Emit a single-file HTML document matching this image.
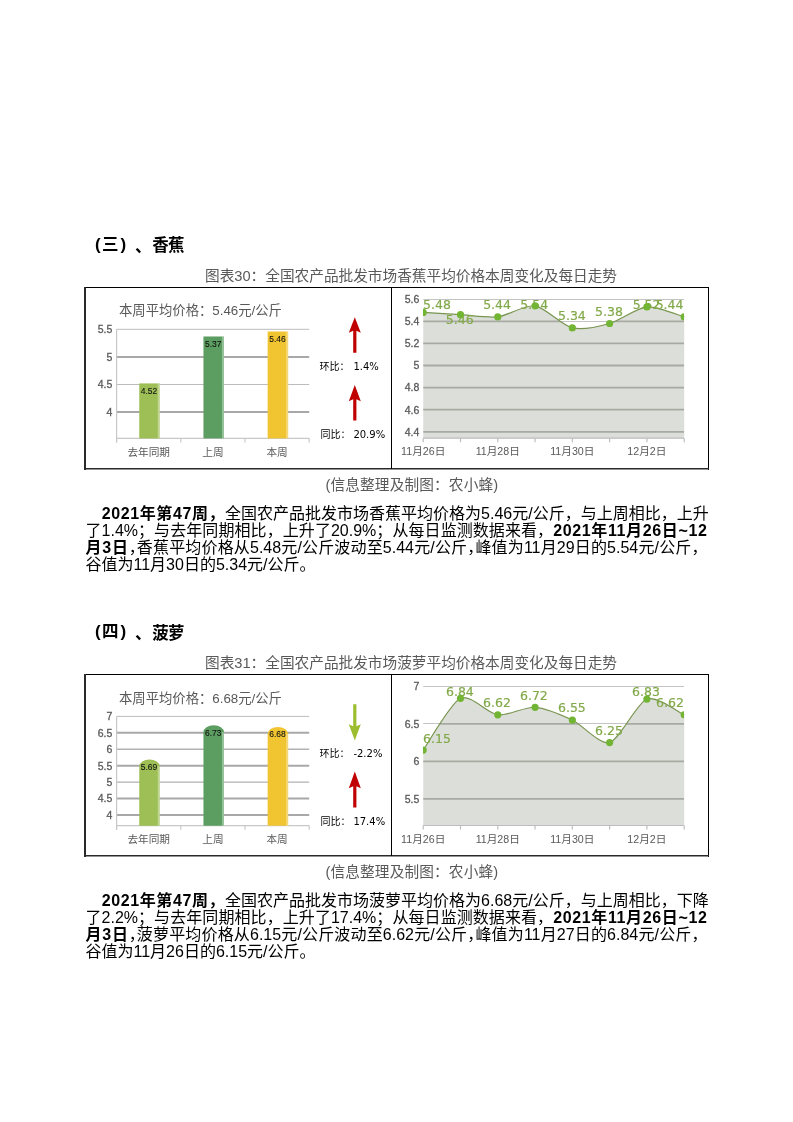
<!DOCTYPE html>
<html><head><meta charset="utf-8"><title>page</title>
<style>
html,body{margin:0;padding:0;background:#fff;}
body{width:793px;height:1122px;position:relative;overflow:hidden;font-family:"Liberation Sans","Noto Sans CJK SC",sans-serif;}
#w{position:absolute;left:0;top:0;width:793px;height:1122px;will-change:transform;}
.a{position:absolute;white-space:nowrap;}
.g{position:absolute;line-height:30px;white-space:nowrap;color:#000;}
.h{position:absolute;left:91px;font-size:16px;font-weight:bold;line-height:20px;color:#000;white-space:nowrap;}
.cap{position:absolute;left:205px;font-size:14.67px;line-height:18px;color:#595959;white-space:nowrap;}
.src{position:absolute;left:325.4px;letter-spacing:0.15px;font-size:14.67px;line-height:18px;color:#595959;white-space:nowrap;}
.pl{position:absolute;font-size:16px;line-height:20px;color:#000;white-space:nowrap;text-align:justify;text-align-last:justify;}
.pl.last{text-align:left;text-align-last:left;}
.pl b{font-weight:bold;letter-spacing:0.6px;}
.hw{font-feature-settings:"halt";}
svg{position:absolute;left:0;top:0;}
</style></head><body><div id="w">
<span class="g" style="left:95.0px;top:234.6px;font:bold 17px 'Liberation Sans',sans-serif">(</span><span class="g" style="left:102.0px;top:231.0px;font:bold 16.5px 'Noto Sans CJK SC',sans-serif">三</span><span class="g" style="left:120.6px;top:234.6px;font:bold 17px 'Liberation Sans',sans-serif">)</span><span class="g" style="left:135.1px;top:233.0px;font:bold 16.5px 'Noto Sans CJK SC',sans-serif">、</span><span class="g" style="left:152.2px;top:232.2px;font:bold 16.5px 'Noto Sans CJK SC',sans-serif">香</span><span class="g" style="left:168.1px;top:232.2px;font:bold 16.5px 'Noto Sans CJK SC',sans-serif">蕉</span>
<div class="cap" style="top:266.7px">图表30：全国农产品批发市场香蕉平均价格本周变化及每日走势</div>
<div class="src" style="top:476px">(信息整理及制图：农小蜂)</div>
<div class="pl" style="top:503.70px;left:101.7px;width:605.8px;"><b>2021年第47周，</b>全国农产品批发市场香蕉平均价格为5.46元/公斤，与上周相比，上升</div>
<div class="pl" style="top:521.00px;left:85.5px;width:622px;">了1.4%；与去年同期相比，上升了20.9%；从每日监测数据来看，<b>2021年11月26日~12</b></div>
<div class="pl" style="top:538.00px;left:85.5px;width:622px;"><b>月3日</b><span class="hw">，</span>香蕉平均价格从5.48元/公斤波动至5.44元/公斤<span class="hw">，</span>峰值为11月29日的5.54元/公斤，</div>
<div class="pl last" style="top:554.90px;left:85.5px;width:622px;">谷值为11月30日的5.34元/公斤。</div>
<span class="g" style="left:95.0px;top:621.9px;font:bold 17px 'Liberation Sans',sans-serif">(</span><span class="g" style="left:102.0px;top:618.3px;font:bold 16.5px 'Noto Sans CJK SC',sans-serif">四</span><span class="g" style="left:120.6px;top:621.9px;font:bold 17px 'Liberation Sans',sans-serif">)</span><span class="g" style="left:135.1px;top:620.3px;font:bold 16.5px 'Noto Sans CJK SC',sans-serif">、</span><span class="g" style="left:152.2px;top:619.5px;font:bold 16.5px 'Noto Sans CJK SC',sans-serif">菠</span><span class="g" style="left:168.1px;top:619.5px;font:bold 16.5px 'Noto Sans CJK SC',sans-serif">萝</span>
<div class="cap" style="top:654.0px">图表31：全国农产品批发市场菠萝平均价格本周变化及每日走势</div>
<div class="src" style="top:863.3px">(信息整理及制图：农小蜂)</div>
<div class="pl" style="top:890.70px;left:101.7px;width:605.8px;"><b>2021年第47周，</b>全国农产品批发市场菠萝平均价格为6.68元/公斤，与上周相比，下降</div>
<div class="pl" style="top:908.00px;left:85.5px;width:622px;">了2.2%；与去年同期相比，上升了17.4%；从每日监测数据来看，<b>2021年11月26日~12</b></div>
<div class="pl" style="top:925.00px;left:85.5px;width:622px;"><b>月3日</b><span class="hw">，</span>菠萝平均价格从6.15元/公斤波动至6.62元/公斤<span class="hw">，</span>峰值为11月27日的6.84元/公斤，</div>
<div class="pl last" style="top:941.90px;left:85.5px;width:622px;">谷值为11月26日的6.15元/公斤。</div>
<svg width="793" height="1122" viewBox="0 0 793 1122">
<line x1="84" y1="287.5" x2="709" y2="287.5" stroke="#000" stroke-width="1"/>
<line x1="708.5" y1="287" x2="708.5" y2="470" stroke="#000" stroke-width="1"/>
<line x1="85" y1="287" x2="85" y2="470" stroke="#2a2a2a" stroke-width="2"/>
<line x1="84" y1="468.75" x2="709" y2="468.75" stroke="#2a2a2a" stroke-width="1.5"/>
<line x1="391.5" y1="287" x2="391.5" y2="469" stroke="#000" stroke-width="1"/>
<text x="119" y="315.2" font-size="13.33" fill="#595959" font-family='"Liberation Sans","Noto Sans CJK SC",sans-serif'>本周平均价格：5.46元/公斤</text>
<line x1="116.6" y1="329.30" x2="309.2" y2="329.30" stroke="#bcbcbc" stroke-width="1"/>
<text x="112.4" y="333.10" font-size="10.5" fill="#595959" stroke="#595959" stroke-width="0.3" text-anchor="end" font-family="Liberation Sans,sans-serif">5.5</text>
<line x1="116.6" y1="356.90" x2="309.2" y2="356.90" stroke="#a8a8a8" stroke-width="2"/>
<text x="112.4" y="360.70" font-size="10.5" fill="#595959" stroke="#595959" stroke-width="0.3" text-anchor="end" font-family="Liberation Sans,sans-serif">5</text>
<line x1="116.6" y1="384.50" x2="309.2" y2="384.50" stroke="#bcbcbc" stroke-width="1"/>
<text x="112.4" y="388.30" font-size="10.5" fill="#595959" stroke="#595959" stroke-width="0.3" text-anchor="end" font-family="Liberation Sans,sans-serif">4.5</text>
<line x1="116.6" y1="412.10" x2="309.2" y2="412.10" stroke="#a8a8a8" stroke-width="2"/>
<text x="112.4" y="415.90" font-size="10.5" fill="#595959" stroke="#595959" stroke-width="0.3" text-anchor="end" font-family="Liberation Sans,sans-serif">4</text>
<line x1="116.6" y1="329.30" x2="116.6" y2="442.4" stroke="#c8c8c8" stroke-width="1.2"/>
<line x1="116.6" y1="438.4" x2="309.2" y2="438.4" stroke="#c8c8c8" stroke-width="1.2"/>
<line x1="116.60" y1="438.4" x2="116.60" y2="442.4" stroke="#c8c8c8" stroke-width="1.2"/>
<line x1="180.80" y1="438.4" x2="180.80" y2="442.4" stroke="#c8c8c8" stroke-width="1.2"/>
<line x1="245.00" y1="438.4" x2="245.00" y2="442.4" stroke="#c8c8c8" stroke-width="1.2"/>
<line x1="309.20" y1="438.4" x2="309.20" y2="442.4" stroke="#c8c8c8" stroke-width="1.2"/>
<rect x="139.25" y="383.40" width="20.5" height="55.00" fill="#9dbf55"/>
<rect x="157.75" y="383.40" width="2" height="55.00" fill="#fff" opacity="0.35"/>
<text x="140.80" y="393.70" font-size="9.8" fill="#111" stroke="#111" stroke-width="0.1" font-family="Liberation Sans,sans-serif" textLength="16.5" lengthAdjust="spacingAndGlyphs">4.52</text>
<text x="148.70" y="455.5" font-size="10.67" fill="#595959" text-anchor="middle" font-family='"Liberation Sans","Noto Sans CJK SC",sans-serif'>去年同期</text>
<rect x="203.45" y="336.48" width="20.5" height="101.92" fill="#5c9e61"/>
<rect x="221.95" y="336.48" width="2" height="101.92" fill="#fff" opacity="0.35"/>
<text x="205.00" y="346.78" font-size="9.8" fill="#111" stroke="#111" stroke-width="0.1" font-family="Liberation Sans,sans-serif" textLength="16.5" lengthAdjust="spacingAndGlyphs">5.37</text>
<text x="212.90" y="455.5" font-size="10.67" fill="#595959" text-anchor="middle" font-family='"Liberation Sans","Noto Sans CJK SC",sans-serif'>上周</text>
<rect x="267.65" y="331.51" width="20.5" height="106.89" fill="#f1c432"/>
<rect x="286.15" y="331.51" width="2" height="106.89" fill="#fff" opacity="0.35"/>
<text x="269.20" y="341.81" font-size="9.8" fill="#111" stroke="#111" stroke-width="0.1" font-family="Liberation Sans,sans-serif" textLength="16.5" lengthAdjust="spacingAndGlyphs">5.46</text>
<text x="277.10" y="455.5" font-size="10.67" fill="#595959" text-anchor="middle" font-family='"Liberation Sans","Noto Sans CJK SC",sans-serif'>本周</text>
<path d="M354.8,317.3 L360.8,332.8 L356.40000000000003,330.8 L356.40000000000003,352.8 L353.2,352.8 L353.2,330.8 L348.8,332.8 Z" fill="#c00000"/>
<path d="M354.8,385.1 L360.8,401.3 L356.40000000000003,399.3 L356.40000000000003,420.6 L353.2,420.6 L353.2,399.3 L348.8,401.3 Z" fill="#c00000"/>
<text x="319.5" y="369.8" font-size="10" fill="#000" font-family='"Liberation Sans","Noto Sans CJK SC",sans-serif'>环比：<tspan x="353.4" font-family="DejaVu Sans,sans-serif">1.4%</tspan></text>
<text x="320.5" y="437.8" font-size="10" fill="#000" font-family='"Liberation Sans","Noto Sans CJK SC",sans-serif'>同比：<tspan x="353.4" font-family="DejaVu Sans,sans-serif">20.9%</tspan></text>
<clipPath id="a0"><path d="M423.20,312.46 C428.05,312.75 450.79,314.10 460.49,314.67 C470.18,315.24 488.08,318.03 497.77,316.88 C507.47,315.73 525.36,304.39 535.06,305.83 C544.75,307.27 562.65,325.63 572.34,327.93 C582.04,330.23 599.93,326.24 609.63,323.51 C619.32,320.78 637.22,307.80 646.91,306.93 C656.61,306.07 679.35,315.59 684.20,316.88 L684.20,438.2 L423.20,438.2 Z"/></clipPath>
<line x1="423.2" y1="299.50" x2="684.0" y2="299.50" stroke="#c4c4c4" stroke-width="1.1"/>
<line x1="423.2" y1="321.50" x2="684.0" y2="321.50" stroke="#c4c4c4" stroke-width="1.1"/>
<line x1="423.2" y1="343.50" x2="684.0" y2="343.50" stroke="#c4c4c4" stroke-width="1.1"/>
<line x1="423.2" y1="365.50" x2="684.0" y2="365.50" stroke="#c4c4c4" stroke-width="1.1"/>
<line x1="423.2" y1="387.50" x2="684.0" y2="387.50" stroke="#c4c4c4" stroke-width="1.1"/>
<line x1="423.2" y1="409.50" x2="684.0" y2="409.50" stroke="#c4c4c4" stroke-width="1.1"/>
<line x1="423.2" y1="431.50" x2="684.0" y2="431.50" stroke="#c4c4c4" stroke-width="1.1"/>
<path d="M423.20,312.46 C428.05,312.75 450.79,314.10 460.49,314.67 C470.18,315.24 488.08,318.03 497.77,316.88 C507.47,315.73 525.36,304.39 535.06,305.83 C544.75,307.27 562.65,325.63 572.34,327.93 C582.04,330.23 599.93,326.24 609.63,323.51 C619.32,320.78 637.22,307.80 646.91,306.93 C656.61,306.07 679.35,315.59 684.20,316.88 L684.20,438.2 L423.20,438.2 Z" fill="#dcdfd9"/>
<line x1="423.2" y1="299.20" x2="684.0" y2="299.20" stroke="#a7aaa2" stroke-width="1.8" clip-path="url(#a0)"/>
<line x1="423.2" y1="321.30" x2="684.0" y2="321.30" stroke="#a7aaa2" stroke-width="1.8" clip-path="url(#a0)"/>
<line x1="423.2" y1="343.40" x2="684.0" y2="343.40" stroke="#a7aaa2" stroke-width="1.8" clip-path="url(#a0)"/>
<line x1="423.2" y1="365.50" x2="684.0" y2="365.50" stroke="#a7aaa2" stroke-width="1.8" clip-path="url(#a0)"/>
<line x1="423.2" y1="387.60" x2="684.0" y2="387.60" stroke="#a7aaa2" stroke-width="1.8" clip-path="url(#a0)"/>
<line x1="423.2" y1="409.70" x2="684.0" y2="409.70" stroke="#a7aaa2" stroke-width="1.8" clip-path="url(#a0)"/>
<line x1="423.2" y1="431.80" x2="684.0" y2="431.80" stroke="#a7aaa2" stroke-width="1.8" clip-path="url(#a0)"/>
<path d="M423.20,312.46 C428.05,312.75 450.79,314.10 460.49,314.67 C470.18,315.24 488.08,318.03 497.77,316.88 C507.47,315.73 525.36,304.39 535.06,305.83 C544.75,307.27 562.65,325.63 572.34,327.93 C582.04,330.23 599.93,326.24 609.63,323.51 C619.32,320.78 637.22,307.80 646.91,306.93 C656.61,306.07 679.35,315.59 684.20,316.88" fill="none" stroke="#789550" stroke-width="1.2"/>
<text x="437.00" y="308.90" font-size="12.5" fill="#82a94a" stroke="#82a94a" stroke-width="0.18" text-anchor="middle" font-family="DejaVu Sans,sans-serif">5.48</text>
<text x="459.70" y="323.90" font-size="12.5" fill="#82a94a" stroke="#82a94a" stroke-width="0.18" text-anchor="middle" font-family="DejaVu Sans,sans-serif">5.46</text>
<text x="497.10" y="309.00" font-size="12.5" fill="#82a94a" stroke="#82a94a" stroke-width="0.18" text-anchor="middle" font-family="DejaVu Sans,sans-serif">5.44</text>
<text x="534.20" y="308.90" font-size="12.5" fill="#82a94a" stroke="#82a94a" stroke-width="0.18" text-anchor="middle" font-family="DejaVu Sans,sans-serif">5.54</text>
<text x="571.90" y="319.60" font-size="12.5" fill="#82a94a" stroke="#82a94a" stroke-width="0.18" text-anchor="middle" font-family="DejaVu Sans,sans-serif">5.34</text>
<text x="609.00" y="315.80" font-size="12.5" fill="#82a94a" stroke="#82a94a" stroke-width="0.18" text-anchor="middle" font-family="DejaVu Sans,sans-serif">5.38</text>
<text x="646.60" y="309.00" font-size="12.5" fill="#82a94a" stroke="#82a94a" stroke-width="0.18" text-anchor="middle" font-family="DejaVu Sans,sans-serif">5.52</text>
<text x="669.60" y="309.00" font-size="12.5" fill="#82a94a" stroke="#82a94a" stroke-width="0.18" text-anchor="middle" font-family="DejaVu Sans,sans-serif">5.44</text>
<clipPath id="c0"><rect x="423.0" y="289.2" width="261.0" height="149.0"/></clipPath>
<g clip-path="url(#c0)">
<circle cx="423.20" cy="312.46" r="3.6" fill="#72b534"/>
<circle cx="460.49" cy="314.67" r="3.6" fill="#72b534"/>
<circle cx="497.77" cy="316.88" r="3.6" fill="#72b534"/>
<circle cx="535.06" cy="305.83" r="3.6" fill="#72b534"/>
<circle cx="572.34" cy="327.93" r="3.6" fill="#72b534"/>
<circle cx="609.63" cy="323.51" r="3.6" fill="#72b534"/>
<circle cx="646.91" cy="306.93" r="3.6" fill="#72b534"/>
<circle cx="684.20" cy="316.88" r="3.6" fill="#72b534"/>
</g>
<line x1="423.2" y1="438.2" x2="684.0" y2="438.2" stroke="#bdbdbd" stroke-width="1.2"/>
<line x1="423.20" y1="438.2" x2="423.20" y2="442.2" stroke="#bdbdbd" stroke-width="1.2"/>
<line x1="460.49" y1="438.2" x2="460.49" y2="442.2" stroke="#bdbdbd" stroke-width="1.2"/>
<line x1="497.77" y1="438.2" x2="497.77" y2="442.2" stroke="#bdbdbd" stroke-width="1.2"/>
<line x1="535.06" y1="438.2" x2="535.06" y2="442.2" stroke="#bdbdbd" stroke-width="1.2"/>
<line x1="572.34" y1="438.2" x2="572.34" y2="442.2" stroke="#bdbdbd" stroke-width="1.2"/>
<line x1="609.63" y1="438.2" x2="609.63" y2="442.2" stroke="#bdbdbd" stroke-width="1.2"/>
<line x1="646.91" y1="438.2" x2="646.91" y2="442.2" stroke="#bdbdbd" stroke-width="1.2"/>
<line x1="684.20" y1="438.2" x2="684.20" y2="442.2" stroke="#bdbdbd" stroke-width="1.2"/>
<text x="419.3" y="303.00" font-size="10.5" fill="#595959" stroke="#595959" stroke-width="0.3" text-anchor="end" font-family="Liberation Sans,sans-serif">5.6</text>
<text x="419.3" y="325.10" font-size="10.5" fill="#595959" stroke="#595959" stroke-width="0.3" text-anchor="end" font-family="Liberation Sans,sans-serif">5.4</text>
<text x="419.3" y="347.20" font-size="10.5" fill="#595959" stroke="#595959" stroke-width="0.3" text-anchor="end" font-family="Liberation Sans,sans-serif">5.2</text>
<text x="419.3" y="369.30" font-size="10.5" fill="#595959" stroke="#595959" stroke-width="0.3" text-anchor="end" font-family="Liberation Sans,sans-serif">5</text>
<text x="419.3" y="391.40" font-size="10.5" fill="#595959" stroke="#595959" stroke-width="0.3" text-anchor="end" font-family="Liberation Sans,sans-serif">4.8</text>
<text x="419.3" y="413.50" font-size="10.5" fill="#595959" stroke="#595959" stroke-width="0.3" text-anchor="end" font-family="Liberation Sans,sans-serif">4.6</text>
<text x="419.3" y="435.60" font-size="10.5" fill="#595959" stroke="#595959" stroke-width="0.3" text-anchor="end" font-family="Liberation Sans,sans-serif">4.4</text>
<text x="423.20" y="455.2" font-size="10.67" fill="#595959" text-anchor="middle" font-family='"Liberation Sans","Noto Sans CJK SC",sans-serif'>11月26日</text>
<text x="497.77" y="455.2" font-size="10.67" fill="#595959" text-anchor="middle" font-family='"Liberation Sans","Noto Sans CJK SC",sans-serif'>11月28日</text>
<text x="572.34" y="455.2" font-size="10.67" fill="#595959" text-anchor="middle" font-family='"Liberation Sans","Noto Sans CJK SC",sans-serif'>11月30日</text>
<text x="646.91" y="455.2" font-size="10.67" fill="#595959" text-anchor="middle" font-family='"Liberation Sans","Noto Sans CJK SC",sans-serif'>12月2日</text>
<line x1="84" y1="674.5" x2="709" y2="674.5" stroke="#000" stroke-width="1"/>
<line x1="708.5" y1="674" x2="708.5" y2="857" stroke="#000" stroke-width="1"/>
<line x1="85" y1="674" x2="85" y2="857" stroke="#2a2a2a" stroke-width="2"/>
<line x1="84" y1="855.75" x2="709" y2="855.75" stroke="#2a2a2a" stroke-width="1.5"/>
<line x1="391.5" y1="674" x2="391.5" y2="856" stroke="#000" stroke-width="1"/>
<text x="119" y="702.5" font-size="13.33" fill="#595959" font-family='"Liberation Sans","Noto Sans CJK SC",sans-serif'>本周平均价格：6.68元/公斤</text>
<line x1="116.6" y1="716.40" x2="309.2" y2="716.40" stroke="#bcbcbc" stroke-width="1"/>
<text x="112.4" y="720.20" font-size="10.5" fill="#595959" stroke="#595959" stroke-width="0.3" text-anchor="end" font-family="Liberation Sans,sans-serif">7</text>
<line x1="116.6" y1="732.83" x2="309.2" y2="732.83" stroke="#a8a8a8" stroke-width="2"/>
<text x="112.4" y="736.63" font-size="10.5" fill="#595959" stroke="#595959" stroke-width="0.3" text-anchor="end" font-family="Liberation Sans,sans-serif">6.5</text>
<line x1="116.6" y1="749.27" x2="309.2" y2="749.27" stroke="#b2b2b2" stroke-width="1.4"/>
<text x="112.4" y="753.07" font-size="10.5" fill="#595959" stroke="#595959" stroke-width="0.3" text-anchor="end" font-family="Liberation Sans,sans-serif">6</text>
<line x1="116.6" y1="765.70" x2="309.2" y2="765.70" stroke="#a8a8a8" stroke-width="2"/>
<text x="112.4" y="769.50" font-size="10.5" fill="#595959" stroke="#595959" stroke-width="0.3" text-anchor="end" font-family="Liberation Sans,sans-serif">5.5</text>
<line x1="116.6" y1="782.14" x2="309.2" y2="782.14" stroke="#b2b2b2" stroke-width="1.4"/>
<text x="112.4" y="785.94" font-size="10.5" fill="#595959" stroke="#595959" stroke-width="0.3" text-anchor="end" font-family="Liberation Sans,sans-serif">5</text>
<line x1="116.6" y1="798.57" x2="309.2" y2="798.57" stroke="#a8a8a8" stroke-width="2"/>
<text x="112.4" y="802.37" font-size="10.5" fill="#595959" stroke="#595959" stroke-width="0.3" text-anchor="end" font-family="Liberation Sans,sans-serif">4.5</text>
<line x1="116.6" y1="815.01" x2="309.2" y2="815.01" stroke="#a8a8a8" stroke-width="2"/>
<text x="112.4" y="818.81" font-size="10.5" fill="#595959" stroke="#595959" stroke-width="0.3" text-anchor="end" font-family="Liberation Sans,sans-serif">4</text>
<line x1="116.6" y1="716.40" x2="116.6" y2="829.7" stroke="#c8c8c8" stroke-width="1.2"/>
<line x1="116.6" y1="825.7" x2="309.2" y2="825.7" stroke="#c8c8c8" stroke-width="1.2"/>
<line x1="116.60" y1="825.7" x2="116.60" y2="829.7" stroke="#c8c8c8" stroke-width="1.2"/>
<line x1="180.80" y1="825.7" x2="180.80" y2="829.7" stroke="#c8c8c8" stroke-width="1.2"/>
<line x1="245.00" y1="825.7" x2="245.00" y2="829.7" stroke="#c8c8c8" stroke-width="1.2"/>
<line x1="309.20" y1="825.7" x2="309.20" y2="829.7" stroke="#c8c8c8" stroke-width="1.2"/>
<path d="M139.25,825.7 V766.46 A10.25,7.00 0 0 1 159.75,766.46 V825.7 Z" fill="#9dbf55"/>
<rect x="157.75" y="766.46" width="2" height="59.24" fill="#fff" opacity="0.35"/>
<text x="140.80" y="769.76" font-size="9.8" fill="#111" stroke="#111" stroke-width="0.1" font-family="Liberation Sans,sans-serif" textLength="16.5" lengthAdjust="spacingAndGlyphs">5.69</text>
<text x="148.70" y="842.8" font-size="10.67" fill="#595959" text-anchor="middle" font-family='"Liberation Sans","Noto Sans CJK SC",sans-serif'>去年同期</text>
<path d="M203.45,825.7 V732.27 A10.25,7.00 0 0 1 223.95,732.27 V825.7 Z" fill="#5c9e61"/>
<rect x="221.95" y="732.27" width="2" height="93.43" fill="#fff" opacity="0.35"/>
<text x="205.00" y="735.57" font-size="9.8" fill="#111" stroke="#111" stroke-width="0.1" font-family="Liberation Sans,sans-serif" textLength="16.5" lengthAdjust="spacingAndGlyphs">6.73</text>
<text x="212.90" y="842.8" font-size="10.67" fill="#595959" text-anchor="middle" font-family='"Liberation Sans","Noto Sans CJK SC",sans-serif'>上周</text>
<path d="M267.65,825.7 V733.92 A10.25,7.00 0 0 1 288.15,733.92 V825.7 Z" fill="#f1c432"/>
<rect x="286.15" y="733.92" width="2" height="91.78" fill="#fff" opacity="0.35"/>
<text x="269.20" y="737.22" font-size="9.8" fill="#111" stroke="#111" stroke-width="0.1" font-family="Liberation Sans,sans-serif" textLength="16.5" lengthAdjust="spacingAndGlyphs">6.68</text>
<text x="277.10" y="842.8" font-size="10.67" fill="#595959" text-anchor="middle" font-family='"Liberation Sans","Noto Sans CJK SC",sans-serif'>本周</text>
<path d="M353.2,704.2 L356.40000000000003,704.2 L356.40000000000003,726.2 L360.8,724.2 L354.8,740.4000000000001 L348.8,724.2 L353.2,726.2 Z" fill="#9bbd2e"/>
<path d="M354.8,771.4000000000001 L360.8,788.2 L356.40000000000003,786.2 L356.40000000000003,807.6 L353.2,807.6 L353.2,786.2 L348.8,788.2 Z" fill="#c00000"/>
<text x="319.5" y="757.1" font-size="10" fill="#000" font-family='"Liberation Sans","Noto Sans CJK SC",sans-serif'>环比：<tspan x="353.4" font-family="DejaVu Sans,sans-serif">-2.2%</tspan></text>
<text x="320.5" y="825.1" font-size="10" fill="#000" font-family='"Liberation Sans","Noto Sans CJK SC",sans-serif'>同比：<tspan x="353.4" font-family="DejaVu Sans,sans-serif">17.4%</tspan></text>
<clipPath id="a387"><path d="M423.20,750.05 C428.05,743.32 450.79,702.88 460.49,698.30 C470.18,693.72 488.08,713.63 497.77,714.80 C507.47,715.97 525.36,706.62 535.06,707.30 C544.75,707.98 562.65,715.47 572.34,720.05 C582.04,724.63 599.93,745.28 609.63,742.55 C619.32,739.82 637.22,702.66 646.91,699.05 C656.61,695.44 679.35,712.75 684.20,714.80 L684.20,825.5 L423.20,825.5 Z"/></clipPath>
<line x1="423.2" y1="686.50" x2="684.0" y2="686.50" stroke="#c4c4c4" stroke-width="1.1"/>
<line x1="423.2" y1="723.50" x2="684.0" y2="723.50" stroke="#c4c4c4" stroke-width="1.1"/>
<line x1="423.2" y1="761.50" x2="684.0" y2="761.50" stroke="#c4c4c4" stroke-width="1.1"/>
<line x1="423.2" y1="798.50" x2="684.0" y2="798.50" stroke="#c4c4c4" stroke-width="1.1"/>
<path d="M423.20,750.05 C428.05,743.32 450.79,702.88 460.49,698.30 C470.18,693.72 488.08,713.63 497.77,714.80 C507.47,715.97 525.36,706.62 535.06,707.30 C544.75,707.98 562.65,715.47 572.34,720.05 C582.04,724.63 599.93,745.28 609.63,742.55 C619.32,739.82 637.22,702.66 646.91,699.05 C656.61,695.44 679.35,712.75 684.20,714.80 L684.20,825.5 L423.20,825.5 Z" fill="#dcdfd9"/>
<line x1="423.2" y1="686.30" x2="684.0" y2="686.30" stroke="#a7aaa2" stroke-width="1.8" clip-path="url(#a387)"/>
<line x1="423.2" y1="723.80" x2="684.0" y2="723.80" stroke="#a7aaa2" stroke-width="1.8" clip-path="url(#a387)"/>
<line x1="423.2" y1="761.30" x2="684.0" y2="761.30" stroke="#a7aaa2" stroke-width="1.8" clip-path="url(#a387)"/>
<line x1="423.2" y1="798.80" x2="684.0" y2="798.80" stroke="#a7aaa2" stroke-width="1.8" clip-path="url(#a387)"/>
<path d="M423.20,750.05 C428.05,743.32 450.79,702.88 460.49,698.30 C470.18,693.72 488.08,713.63 497.77,714.80 C507.47,715.97 525.36,706.62 535.06,707.30 C544.75,707.98 562.65,715.47 572.34,720.05 C582.04,724.63 599.93,745.28 609.63,742.55 C619.32,739.82 637.22,702.66 646.91,699.05 C656.61,695.44 679.35,712.75 684.20,714.80" fill="none" stroke="#789550" stroke-width="1.2"/>
<text x="437.00" y="742.80" font-size="12.5" fill="#82a94a" stroke="#82a94a" stroke-width="0.18" text-anchor="middle" font-family="DejaVu Sans,sans-serif">6.15</text>
<text x="459.90" y="696.20" font-size="12.5" fill="#82a94a" stroke="#82a94a" stroke-width="0.18" text-anchor="middle" font-family="DejaVu Sans,sans-serif">6.84</text>
<text x="497.00" y="707.00" font-size="12.5" fill="#82a94a" stroke="#82a94a" stroke-width="0.18" text-anchor="middle" font-family="DejaVu Sans,sans-serif">6.62</text>
<text x="533.90" y="700.00" font-size="12.5" fill="#82a94a" stroke="#82a94a" stroke-width="0.18" text-anchor="middle" font-family="DejaVu Sans,sans-serif">6.72</text>
<text x="571.90" y="711.90" font-size="12.5" fill="#82a94a" stroke="#82a94a" stroke-width="0.18" text-anchor="middle" font-family="DejaVu Sans,sans-serif">6.55</text>
<text x="609.00" y="734.80" font-size="12.5" fill="#82a94a" stroke="#82a94a" stroke-width="0.18" text-anchor="middle" font-family="DejaVu Sans,sans-serif">6.25</text>
<text x="646.00" y="696.20" font-size="12.5" fill="#82a94a" stroke="#82a94a" stroke-width="0.18" text-anchor="middle" font-family="DejaVu Sans,sans-serif">6.83</text>
<text x="670.00" y="706.70" font-size="12.5" fill="#82a94a" stroke="#82a94a" stroke-width="0.18" text-anchor="middle" font-family="DejaVu Sans,sans-serif">6.62</text>
<clipPath id="c387"><rect x="423.0" y="676.3" width="261.0" height="149.20000000000005"/></clipPath>
<g clip-path="url(#c387)">
<circle cx="423.20" cy="750.05" r="3.6" fill="#72b534"/>
<circle cx="460.49" cy="698.30" r="3.6" fill="#72b534"/>
<circle cx="497.77" cy="714.80" r="3.6" fill="#72b534"/>
<circle cx="535.06" cy="707.30" r="3.6" fill="#72b534"/>
<circle cx="572.34" cy="720.05" r="3.6" fill="#72b534"/>
<circle cx="609.63" cy="742.55" r="3.6" fill="#72b534"/>
<circle cx="646.91" cy="699.05" r="3.6" fill="#72b534"/>
<circle cx="684.20" cy="714.80" r="3.6" fill="#72b534"/>
</g>
<line x1="423.2" y1="825.5" x2="684.0" y2="825.5" stroke="#bdbdbd" stroke-width="1.2"/>
<line x1="423.20" y1="825.5" x2="423.20" y2="829.5" stroke="#bdbdbd" stroke-width="1.2"/>
<line x1="460.49" y1="825.5" x2="460.49" y2="829.5" stroke="#bdbdbd" stroke-width="1.2"/>
<line x1="497.77" y1="825.5" x2="497.77" y2="829.5" stroke="#bdbdbd" stroke-width="1.2"/>
<line x1="535.06" y1="825.5" x2="535.06" y2="829.5" stroke="#bdbdbd" stroke-width="1.2"/>
<line x1="572.34" y1="825.5" x2="572.34" y2="829.5" stroke="#bdbdbd" stroke-width="1.2"/>
<line x1="609.63" y1="825.5" x2="609.63" y2="829.5" stroke="#bdbdbd" stroke-width="1.2"/>
<line x1="646.91" y1="825.5" x2="646.91" y2="829.5" stroke="#bdbdbd" stroke-width="1.2"/>
<line x1="684.20" y1="825.5" x2="684.20" y2="829.5" stroke="#bdbdbd" stroke-width="1.2"/>
<text x="419.3" y="690.10" font-size="10.5" fill="#595959" stroke="#595959" stroke-width="0.3" text-anchor="end" font-family="Liberation Sans,sans-serif">7</text>
<text x="419.3" y="727.60" font-size="10.5" fill="#595959" stroke="#595959" stroke-width="0.3" text-anchor="end" font-family="Liberation Sans,sans-serif">6.5</text>
<text x="419.3" y="765.10" font-size="10.5" fill="#595959" stroke="#595959" stroke-width="0.3" text-anchor="end" font-family="Liberation Sans,sans-serif">6</text>
<text x="419.3" y="802.60" font-size="10.5" fill="#595959" stroke="#595959" stroke-width="0.3" text-anchor="end" font-family="Liberation Sans,sans-serif">5.5</text>
<text x="423.20" y="842.5" font-size="10.67" fill="#595959" text-anchor="middle" font-family='"Liberation Sans","Noto Sans CJK SC",sans-serif'>11月26日</text>
<text x="497.77" y="842.5" font-size="10.67" fill="#595959" text-anchor="middle" font-family='"Liberation Sans","Noto Sans CJK SC",sans-serif'>11月28日</text>
<text x="572.34" y="842.5" font-size="10.67" fill="#595959" text-anchor="middle" font-family='"Liberation Sans","Noto Sans CJK SC",sans-serif'>11月30日</text>
<text x="646.91" y="842.5" font-size="10.67" fill="#595959" text-anchor="middle" font-family='"Liberation Sans","Noto Sans CJK SC",sans-serif'>12月2日</text>
</svg>
</div></body></html>
